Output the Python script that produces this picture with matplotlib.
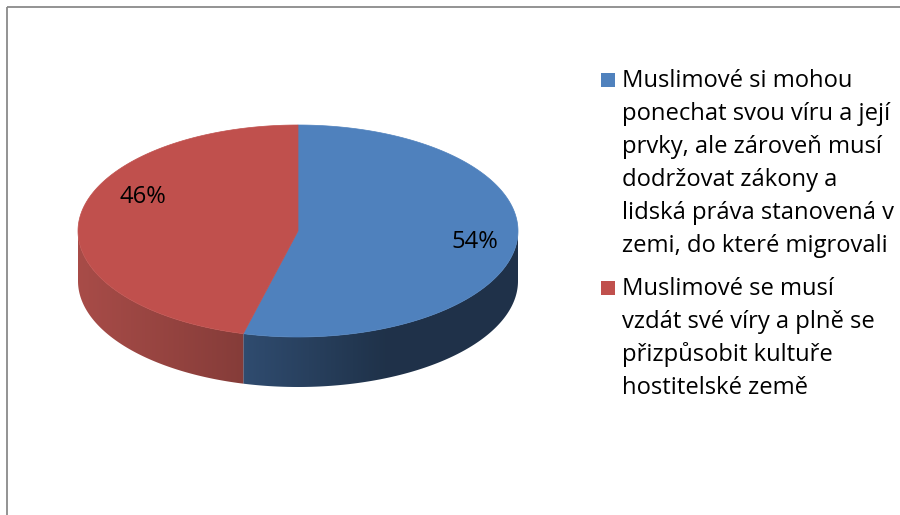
import numpy as np
import matplotlib.pyplot as plt
from matplotlib.patches import Polygon, Rectangle
from matplotlib.colors import to_rgb

plt.rcParams['font.family'] = ['Open Sans', 'DejaVu Sans']

# data
shares = [54, 46]
legend_lines = [
    ["Muslimové si mohou", "ponechat svou víru a její", "prvky, ale zároveň musí",
     "dodržovat zákony a", "lidská práva stanovená v", "zemi, do které migrovali"],
    ["Muslimové se musí", "vzdát své víry a plně se", "přizpůsobit kultuře",
     "hostitelské země"],
]

top_colors = ["#4F81BD", "#C0504D"]
side_colors = ["#3C608D", "#A84C48"]

# geometry of the tilted pie (pixel units)
cx, cy = 298, 231
a, b = 220, 106
depth = 50
fs = 17.1

fig = plt.figure(figsize=(9, 5.15), dpi=100)
ax = fig.add_axes([0, 0, 1, 1])

# chart area border (right/bottom fall outside)
ax.add_patch(Rectangle((7, 7), 1200, 1200, fill=False, edgecolor='#8a8a8a', lw=1.3))


def pt(phi):
    # phi: clockwise angle from 12 o'clock, radians
    return cx + a * np.sin(phi), cy - b * np.cos(phi)


def shade(u):
    return np.interp(u, [-1, -0.27, 0.4, 1], [1.0, 0.8, 0.52, 0.52])


total = sum(shares)
bounds = np.cumsum([0] + shares) / total * 2 * np.pi

# side wall, only the front half is visible; shaded left to right
for i in range(len(shares)):
    lo = max(bounds[i], np.pi / 2)
    hi = min(bounds[i + 1], 3 * np.pi / 2)
    if hi <= lo:
        continue
    ph = np.linspace(lo, hi, 300)
    xs, ys = pt(ph)
    verts = list(zip(xs, ys)) + list(zip(xs[::-1], ys[::-1] + depth))
    wall = Polygon(verts, closed=True, facecolor='none', edgecolor='none')
    ax.add_patch(wall)
    x0, x1 = xs.min() - 2, xs.max() + 2
    y0, y1 = ys.min() - 2, ys.max() + depth + 2
    gx = np.linspace(x0, x1, 600)
    k = shade((gx - cx) / a)
    base = np.array(to_rgb(side_colors[i]))
    img = np.clip(base[None, None, :] * k[None, :, None], 0, 1)
    im = ax.imshow(img, extent=(x0, x1, y1, y0), aspect='auto', interpolation='bilinear')
    im.set_clip_path(wall)

# top face
for i in range(len(shares)):
    ph = np.linspace(bounds[i], bounds[i + 1], 300)
    xs, ys = pt(ph)
    verts = [(cx, cy)] + list(zip(xs, ys))
    ax.add_patch(Polygon(verts, closed=True, facecolor=top_colors[i],
                         edgecolor=top_colors[i], lw=0.5))

# percentage labels
label_r = [0.81, 0.71]
label_lift = [0, -25]
for i, v in enumerate(shares):
    mid = (bounds[i] + bounds[i + 1]) / 2
    x = cx + a * label_r[i] * np.sin(mid)
    y = cy - b * label_r[i] * np.cos(mid) + label_lift[i]
    ax.text(x, y, f"{v}%", fontsize=fs, ha='center', va='center', color='black')

# legend
entry_top = [87, 295]
line_step = 33
for i, lines in enumerate(legend_lines):
    y0 = entry_top[i]
    ax.add_patch(Rectangle((601, y0 - 14), 14, 14, facecolor=top_colors[i], edgecolor='none'))
    for j, line in enumerate(lines):
        ax.text(622, y0 + j * line_step, line, fontsize=fs, va='baseline', ha='left',
                color='black')

ax.set_xlim(0, 900)
ax.set_ylim(515, 0)
ax.axis('off')

fig.savefig("out.png", dpi=100)
